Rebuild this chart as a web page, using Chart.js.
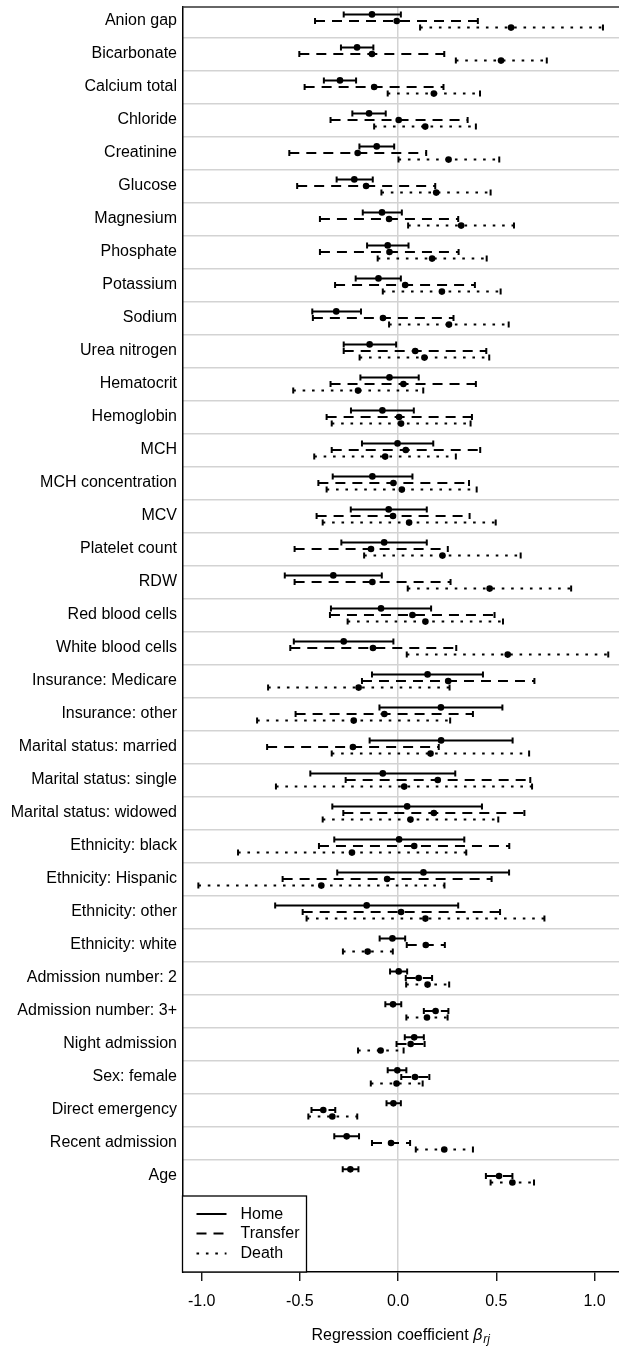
<!DOCTYPE html>
<html>
<head>
<meta charset="utf-8">
<script src="https://cdn.jsdelivr.net/npm/chart.js@4.4.1/dist/chart.umd.min.js"></script>
<style>
  html, body { margin: 0; padding: 0; background: #ffffff; }
  #wrap { width: 619px; height: 1347px; position: relative; }
  canvas { display: block; }
</style>
</head>
<body>
<div id="wrap"><canvas id="forest" width="619" height="1347"></canvas></div>
<script>
// Covariates, top to bottom
const categories = [
  'Anion gap', 'Bicarbonate', 'Calcium total', 'Chloride', 'Creatinine', 'Glucose',
  'Magnesium', 'Phosphate', 'Potassium', 'Sodium', 'Urea nitrogen', 'Hematocrit',
  'Hemoglobin', 'MCH', 'MCH concentration', 'MCV', 'Platelet count', 'RDW',
  'Red blood cells', 'White blood cells', 'Insurance: Medicare', 'Insurance: other',
  'Marital status: married', 'Marital status: single', 'Marital status: widowed',
  'Ethnicity: black', 'Ethnicity: Hispanic', 'Ethnicity: other', 'Ethnicity: white',
  'Admission number: 2', 'Admission number: 3+', 'Night admission', 'Sex: female',
  'Direct emergency', 'Recent admission', 'Age'
];

const seriesNames = ['Home', 'Transfer', 'Death'];

// Home: estimate and interval bounds
const homeEst = [-0.133, -0.209, -0.296, -0.148, -0.109, -0.223, -0.082, -0.053, -0.100, -0.315, -0.145, -0.044, -0.080, -0.003, -0.131, -0.048, -0.071, -0.330, -0.087, -0.277, 0.150, 0.218, 0.219, -0.078, 0.046, 0.005, 0.129, -0.160, -0.029, 0.003, -0.026, 0.082, -0.004, -0.024, -0.262, -0.243];
const homeLo  = [-0.277, -0.291, -0.378, -0.233, -0.197, -0.313, -0.180, -0.158, -0.216, -0.437, -0.277, -0.192, -0.240, -0.184, -0.333, -0.241, -0.289, -0.577, -0.342, -0.531, -0.133, -0.095, -0.145, -0.447, -0.335, -0.325, -0.310, -0.626, -0.094, -0.041, -0.065, 0.034, -0.053, -0.059, -0.325, -0.282];
const homeHi  = [0.014, -0.126, -0.214, -0.063, -0.020, -0.129, 0.019, 0.053, 0.014, -0.189, -0.010, 0.105, 0.080, 0.179, 0.073, 0.146, 0.146, -0.083, 0.168, -0.024, 0.432, 0.531, 0.583, 0.291, 0.427, 0.337, 0.565, 0.306, 0.036, 0.046, 0.016, 0.131, 0.042, 0.014, -0.199, -0.202];

// Transfer: estimate and interval bounds
const transferEst = [-0.007, -0.133, -0.122, 0.003, -0.206, -0.163, -0.046, -0.044, 0.036, -0.077, 0.087, 0.027, 0.005, 0.039, -0.024, -0.026, -0.138, -0.131, 0.073, -0.128, 0.255, -0.070, -0.230, 0.202, 0.182, 0.082, -0.056, 0.015, 0.141, 0.105, 0.191, 0.064, 0.086, -0.381, -0.036, 0.514];
const transferLo  = [-0.423, -0.503, -0.476, -0.344, -0.554, -0.514, -0.398, -0.398, -0.321, -0.434, -0.277, -0.344, -0.364, -0.338, -0.406, -0.415, -0.527, -0.527, -0.347, -0.549, -0.184, -0.522, -0.667, -0.267, -0.279, -0.403, -0.588, -0.486, 0.044, 0.039, 0.131, -0.008, 0.016, -0.441, -0.133, 0.447];
const transferHi  = [0.406, 0.235, 0.231, 0.354, 0.143, 0.189, 0.306, 0.308, 0.391, 0.282, 0.449, 0.396, 0.376, 0.418, 0.361, 0.364, 0.253, 0.267, 0.491, 0.296, 0.694, 0.381, 0.207, 0.673, 0.643, 0.566, 0.476, 0.519, 0.238, 0.173, 0.256, 0.135, 0.159, -0.320, 0.061, 0.582];

// Death: estimate and interval bounds
const deathEst = [0.575, 0.524, 0.182, 0.138, 0.257, 0.194, 0.321, 0.173, 0.223, 0.259, 0.134, -0.204, 0.015, -0.066, 0.019, 0.056, 0.226, 0.466, 0.139, 0.558, -0.201, -0.226, 0.165, 0.031, 0.063, -0.235, -0.391, 0.139, -0.155, 0.150, 0.147, -0.089, -0.008, -0.335, 0.235, 0.582];
const deathLo  = [0.112, 0.294, -0.053, -0.122, 0.002, -0.085, 0.051, -0.104, -0.078, -0.046, -0.196, -0.534, -0.338, -0.427, -0.364, -0.384, -0.173, 0.049, -0.257, 0.044, -0.662, -0.718, -0.338, -0.622, -0.384, -0.815, -1.017, -0.466, -0.281, 0.041, 0.042, -0.204, -0.139, -0.457, 0.090, 0.471];
const deathHi  = [1.043, 0.757, 0.417, 0.396, 0.515, 0.471, 0.590, 0.451, 0.522, 0.563, 0.464, 0.128, 0.369, 0.294, 0.400, 0.497, 0.624, 0.881, 0.534, 1.070, 0.262, 0.265, 0.667, 0.682, 0.510, 0.347, 0.236, 0.745, -0.027, 0.260, 0.252, 0.028, 0.125, -0.208, 0.381, 0.692];

const xTicks = [-1.0, -0.5, 0.0, 0.5, 1.0];

// ---- styling ----
const FONT = "'Liberation Sans', Arial, Helvetica, sans-serif";
const INK = '#000000';
const GRID = '#d3d3d3';
const DASHES = [[], [10, 7], [2.6, 6.8]];
const ROW_SHIFT = [-0.2, 0, 0.2];       // vertical stagger of the three outcomes within a row
const Y_MIN = -0.424, Y_MAX = 37.91;
const X_MIN = -1.0978, X_MAX = 1.1247;

Chart.defaults.font.family = FONT;
Chart.defaults.color = INK;

const groups = [
  { est: homeEst, lo: homeLo, hi: homeHi },
  { est: transferEst, lo: transferLo, hi: transferHi },
  { est: deathEst, lo: deathLo, hi: deathHi }
];

function intervalPoints(g, shift) {
  const pts = [];
  g.lo.forEach((lo, i) => {
    pts.push({ x: lo, y: i + shift }, { x: g.hi[i], y: i + shift }, { x: null, y: null });
  });
  return pts;
}

const datasets = [];
groups.forEach((g, s) => {
  datasets.push({
    label: seriesNames[s],
    data: intervalPoints(g, ROW_SHIFT[s]),
    showLine: true,
    spanGaps: false,
    borderColor: INK,
    borderWidth: 2,
    borderDash: DASHES[s],
    borderCapStyle: 'butt',
    pointRadius: 0,
    order: 3
  });
});
// interval end caps
groups.forEach((g, s) => {
  const caps = [];
  g.lo.forEach((lo, i) => caps.push({ x: lo, y: i + ROW_SHIFT[s] }, { x: g.hi[i], y: i + ROW_SHIFT[s] }));
  datasets.push({
    label: seriesNames[s] + ' caps',
    data: caps,
    showLine: false,
    pointStyle: 'line',
    rotation: 90,
    pointRadius: 3,
    borderColor: INK,
    borderWidth: 2,
    order: 2
  });
});
// point estimates
groups.forEach((g, s) => {
  datasets.push({
    label: seriesNames[s] + ' estimate',
    data: g.est.map((v, i) => ({ x: v, y: i + ROW_SHIFT[s] })),
    showLine: false,
    pointStyle: 'circle',
    pointRadius: 3.3,
    backgroundColor: INK,
    borderColor: INK,
    borderWidth: 0,
    order: 1
  });
});

// frame top edge, inset legend and axis caption
const decorations = {
  id: 'decorations',
  afterDraw(chart) {
    const { ctx, chartArea: a } = chart;
    ctx.save();

    ctx.strokeStyle = '#333333';
    ctx.lineWidth = 1.5;
    ctx.beginPath();
    ctx.moveTo(a.left, a.top);
    ctx.lineTo(a.right, a.top);
    ctx.stroke();

    // legend box in the lower-left corner of the panel
    const bw = 124, bh = 76;
    const bx = a.left, by = a.bottom - bh;
    ctx.fillStyle = '#ffffff';
    ctx.fillRect(bx, by, bw, bh);
    ctx.strokeStyle = INK;
    ctx.lineWidth = 1.3;
    ctx.strokeRect(bx, by, bw, bh);

    const rowsY = [by + 18, by + 37.5, by + 57.5];
    ctx.font = '16px ' + FONT;
    ctx.textAlign = 'left';
    ctx.textBaseline = 'middle';
    seriesNames.forEach((name, s) => {
      ctx.strokeStyle = INK;
      ctx.lineWidth = 2;
      ctx.setLineDash(DASHES[s]);
      ctx.beginPath();
      ctx.moveTo(bx + 14, rowsY[s]);
      ctx.lineTo(bx + 44, rowsY[s]);
      ctx.stroke();
      ctx.setLineDash([]);
      ctx.fillStyle = INK;
      ctx.fillText(name, bx + 58, rowsY[s] + 0.5);
    });

    // x-axis caption with italic beta and subscript
    const main = 'Regression coefficient ';
    const sym = '\u03B2';
    const sub = 'rj';
    const y = 1334;
    ctx.font = '16px ' + FONT;
    const w1 = ctx.measureText(main).width;
    ctx.font = 'italic 16px ' + FONT;
    const w2 = ctx.measureText(sym).width;
    ctx.font = 'italic 12px ' + FONT;
    const w3 = ctx.measureText(sub).width;
    let x = (a.left + a.right) / 2 - (w1 + w2 + w3 + 1) / 2;
    ctx.fillStyle = INK;
    ctx.textBaseline = 'alphabetic';
    ctx.font = '16px ' + FONT;
    ctx.fillText(main, x, y + 6);
    x += w1;
    ctx.font = 'italic 16px ' + FONT;
    ctx.fillText(sym, x, y + 6);
    x += w2 + 1;
    ctx.font = 'italic 12px ' + FONT;
    ctx.fillText(sub, x, y + 9);

    ctx.restore();
  }
};

function noLabelPadding(s) {
  s.paddingTop = 0; s.paddingBottom = 0; s.paddingLeft = 0; s.paddingRight = 0;
}

new Chart(document.getElementById('forest'), {
  type: 'scatter',
  data: { datasets },
  plugins: [decorations],
  options: {
    responsive: false,
    animation: false,
    events: [],
    devicePixelRatio: 1,
    layout: { autoPadding: false, padding: { top: 7, left: 0, right: 0, bottom: 0 } },
    plugins: {
      legend: { display: false },
      tooltip: { enabled: false },
      title: { display: false }
    },
    scales: {
      x: {
        type: 'linear',
        position: 'bottom',
        min: X_MIN,
        max: X_MAX,
        afterBuildTicks: (s) => { s.ticks = xTicks.map(v => ({ value: v })); },
        afterFit: (s) => { s.height = 75; noLabelPadding(s); },
        ticks: {
          autoSkip: false,
          maxRotation: 0,
          padding: 11,
          color: INK,
          font: { size: 16, family: FONT },
          callback: (v) => Number(v).toFixed(1)
        },
        grid: {
          drawOnChartArea: true,
          drawTicks: true,
          tickLength: 9,
          tickColor: INK,
          tickWidth: 1.3,
          lineWidth: 1.5,
          color: (c) => (c.tick && c.tick.value === 0 ? GRID : 'rgba(0,0,0,0)')
        },
        border: { display: true, color: INK, width: 1.5 }
      },
      y: {
        type: 'linear',
        position: 'left',
        reverse: true,
        min: Y_MIN,
        max: Y_MAX,
        afterBuildTicks: (s) => { s.ticks = categories.map((c, i) => ({ value: i })); },
        afterFit: (s) => { s.width = 182.5; noLabelPadding(s); },
        ticks: {
          autoSkip: false,
          padding: 5.5,
          color: INK,
          font: { size: 16, family: FONT },
          callback: (v) => (categories[v] !== undefined ? categories[v] : '')
        },
        grid: { display: true, drawOnChartArea: false, drawTicks: false },
        border: { display: true, color: INK, width: 1.5 }
      },
      rows: {
        type: 'linear',
        position: 'right',
        reverse: true,
        min: Y_MIN,
        max: Y_MAX,
        afterBuildTicks: (s) => { s.ticks = categories.slice(1).map((c, i) => ({ value: i + 0.5 })); },
        afterFit: (s) => { s.width = 0; noLabelPadding(s); },
        ticks: { display: false },
        grid: { color: GRID, lineWidth: 1.5, drawTicks: false, drawOnChartArea: true },
        border: { display: false }
      }
    }
  }
});
</script>
</body>
</html>
